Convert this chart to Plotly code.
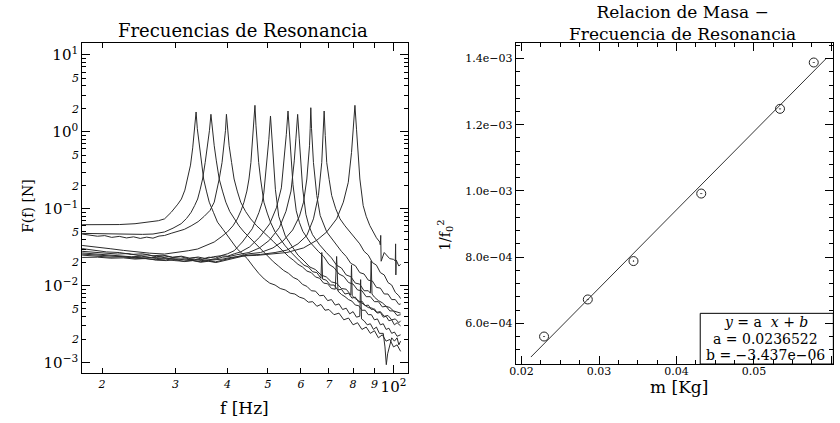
import numpy as np
import plotly.graph_objects as go

# ---------------- Left panel: resonance spectra (f [Hz], F(f) [N]) ----------------
f1 = [17.9, 20, 22, 24, 26, 27.3, 28.25, 29.3, 30.4, 31.0, 31.6, 32.1, 32.6, 33.0, 33.35, 33.62, 33.85, 34.23, 34.6, 35.05,
      35.6, 36.15, 37.0, 37.84, 39.0, 40.0, 41.2, 42.2, 43.4, 44.6, 46, 47.5, 49, 50.5, 52, 53.5, 55, 56.5, 58, 59.5,
      61, 62.5, 64, 65.5, 67, 68.5, 70, 72, 74, 76, 78, 80, 82, 84, 86, 88, 90, 92, 94, 96, 98, 100, 102, 104]
F1 = [0.0621, 0.0621, 0.0624, 0.064, 0.067, 0.07, 0.074, 0.09, 0.115, 0.134, 0.175, 0.244, 0.37, 0.62, 1.05, 1.815, 1.1, 0.66, 0.42, 0.244,
      0.17, 0.122, 0.09, 0.067, 0.054, 0.045, 0.036, 0.03, 0.026, 0.0225, 0.018, 0.0145, 0.0122, 0.0108, 0.0102, 0.0092, 0.0088, 0.008, 0.0078, 0.0071,
      0.0068, 0.0061, 0.0062, 0.0054, 0.0057, 0.0048, 0.0049, 0.0042, 0.0044, 0.0036, 0.0038, 0.0031, 0.0033, 0.0027, 0.0029, 0.0024, 0.0026, 0.0021, 0.0023, 0.0019, 0.002, 0.0016, 0.0017, 0.0014]

f2 = [17.9, 19, 20.5, 22, 23.5, 25, 26.5, 28.25, 29.6, 30.96, 31.9, 32.71, 33.35, 33.91, 34.4, 34.85, 35.35, 35.82, 36.2, 36.49,
      36.75, 37.16, 37.6, 38.2, 38.9, 39.62, 40.5, 41.47, 42.6, 43.8, 45.4, 47.11, 48.6, 50, 51.5, 53, 54.5, 56, 57.5, 59,
      60.5, 62, 63.5, 65, 66.5, 68, 69.5, 71, 72.5, 74, 75.5, 77, 78.5, 80, 81.5, 83, 83.4, 83.8, 85, 86.5,
      88, 89.5, 91, 92.5, 94.5, 95.4, 96.1, 96.8, 97.8, 99, 100.5, 102, 103, 104]
F2 = [0.0479, 0.0476, 0.0471, 0.0466, 0.0463, 0.0465, 0.047, 0.05, 0.056, 0.064, 0.075, 0.09, 0.11, 0.134, 0.18, 0.244, 0.4, 0.66, 1.05, 1.694,
      1.1, 0.66, 0.42, 0.244, 0.17, 0.122, 0.092, 0.074, 0.06, 0.05, 0.041, 0.0335, 0.028, 0.024, 0.0205, 0.018, 0.0158, 0.0145, 0.0128, 0.012,
      0.0104, 0.0098, 0.0086, 0.0085, 0.0074, 0.0075, 0.0064, 0.0066, 0.0056, 0.0058, 0.0049, 0.0051, 0.0043, 0.0046, 0.0039, 0.004, 0.012, 0.0037, 0.0035, 0.0031,
      0.0032, 0.0027, 0.0029, 0.0024, 0.0024, 0.0016, 0.00094, 0.0013, 0.0017, 0.0021, 0.0019, 0.0021, 0.0017, 0.0019]

f3 = [17.9, 18.7, 19.5, 20.3, 21.1, 22, 22.9, 23.8, 24.7, 25.6, 26.5, 27.4, 28.25, 29.3, 30.39, 31.5, 32.71, 34.0, 35.18, 36.3,
      37.16, 37.7, 38.2, 38.8, 39.26, 39.55, 39.75, 40.0, 40.35, 40.9, 41.47, 42.2, 43.01, 44.2, 45.44, 47.0, 48.89, 50.2, 51.64, 53,
      54.5, 56, 57.5, 59, 60.5, 62, 63.5, 65, 66.5, 68, 69.5, 71, 72.5, 73.05, 73.6, 75, 76.5, 78, 79.5, 81,
      82.5, 84, 85.5, 87, 88.5, 90, 91.5, 93, 94.5, 96, 97.5, 99, 100.5, 102, 104]
F3 = [0.047, 0.0455, 0.044, 0.0448, 0.0425, 0.0438, 0.0418, 0.0432, 0.0412, 0.0428, 0.0415, 0.0442, 0.045, 0.048, 0.051, 0.054, 0.06, 0.068, 0.08, 0.095,
      0.122, 0.17, 0.244, 0.4, 0.66, 1.05, 1.694, 1.1, 0.66, 0.4, 0.244, 0.17, 0.122, 0.092, 0.074, 0.06, 0.05, 0.043, 0.037, 0.032,
      0.028, 0.024, 0.0215, 0.019, 0.0175, 0.0155, 0.0148, 0.013, 0.0125, 0.0108, 0.0106, 0.0092, 0.009, 0.024, 0.0085, 0.0077, 0.0072, 0.0066, 0.0063, 0.0056,
      0.0055, 0.0048, 0.0048, 0.0042, 0.0042, 0.0036, 0.0037, 0.0031, 0.0032, 0.0027, 0.0028, 0.0024, 0.0025, 0.0022, 0.0023]

f4 = [17.9, 19.5, 21, 22.5, 24, 26, 28.25, 30.5, 32.2, 33.91, 35.5, 37.16, 38.6, 39.97, 41.2, 42.22, 43.1, 43.8, 44.5, 45.02,
      45.5, 45.84, 46.25, 46.53, 46.8, 47.11, 47.5, 48.0, 48.45, 48.89, 49.8, 50.7, 52.0, 53.5, 55, 56.5, 58, 59.5, 61, 62.5,
      64, 65.5, 67.0, 67.3, 67.6, 69, 70.5, 72, 73.5, 75, 76.5, 78, 79.5, 81, 82.5, 84, 85.5, 87, 88.5, 90,
      91.5, 93, 94.5, 96, 97.5, 99, 100.5, 102, 104]
F4 = [0.0334, 0.032, 0.0302, 0.0288, 0.0276, 0.0265, 0.0258, 0.027, 0.0285, 0.030, 0.033, 0.037, 0.043, 0.05, 0.06, 0.074, 0.095, 0.122, 0.17, 0.244,
      0.4, 0.66, 1.2, 2.215, 1.2, 0.66, 0.4, 0.244, 0.17, 0.122, 0.088, 0.067, 0.05, 0.04, 0.033, 0.028, 0.024, 0.021, 0.0185, 0.0175,
      0.0152, 0.0148, 0.0125, 0.027, 0.0122, 0.0118, 0.0102, 0.0102, 0.0088, 0.009, 0.0078, 0.008, 0.0069, 0.0071, 0.0061, 0.0063, 0.0055, 0.0056, 0.0049, 0.005,
      0.0044, 0.0045, 0.0039, 0.004, 0.0035, 0.0036, 0.0031, 0.0033, 0.003]

f5 = [17.9, 19, 20.5, 22, 23.5, 25, 26.5, 28, 29.5, 31, 32.5, 34, 35.5, 37, 38.5, 40, 41.5, 43.4, 45.84, 47.55,
      48.4, 48.87, 49.76, 50.23, 50.7, 51.15, 51.6, 52.1, 53.06, 54.0, 55.05, 57.2, 59, 61, 63, 65, 67, 69, 71, 73,
      75, 77, 79, 79.3, 79.6, 81, 83, 85, 87, 89, 91, 93, 95, 97, 99, 101, 103, 104]
F5 = [0.0304, 0.029, 0.0275, 0.027, 0.0255, 0.026, 0.0245, 0.025, 0.0235, 0.0242, 0.0228, 0.0236, 0.0225, 0.0238, 0.0245, 0.026, 0.0285, 0.037, 0.055, 0.089,
      0.12, 0.161, 0.40, 0.79, 1.61, 0.79, 0.4, 0.177, 0.08, 0.058, 0.044, 0.032, 0.025, 0.021, 0.0175, 0.0162, 0.0138, 0.013, 0.0112, 0.0108,
      0.0092, 0.009, 0.0076, 0.0185, 0.0074, 0.0068, 0.0062, 0.0058, 0.0052, 0.0051, 0.0045, 0.0046, 0.004, 0.0041, 0.0036, 0.0037, 0.0033, 0.0035]

f6 = [17.9, 19.2, 20.5, 21.8, 23.1, 24.4, 25.7, 27, 28.3, 29.6, 30.9, 32.2, 33.5, 34.8, 36.1, 37.4, 38.7, 40, 41.5, 43,
      45.2, 47.8, 50.5, 52.38, 53.84, 54.82, 55.33, 55.85, 56.34, 56.85, 57.4, 58.45, 59.5, 60.6, 63, 66, 68, 70, 72, 74,
      76, 78, 80, 82, 84, 86, 88, 90, 92, 94, 96, 98, 100, 102, 104]
F6 = [0.028, 0.0272, 0.0265, 0.0258, 0.0262, 0.0248, 0.0252, 0.0238, 0.0244, 0.0232, 0.0238, 0.0225, 0.0232, 0.0222, 0.0235, 0.0228, 0.0245, 0.0242, 0.026, 0.0275,
      0.032, 0.043, 0.064, 0.103, 0.187, 0.47, 0.92, 1.87, 0.92, 0.45, 0.206, 0.094, 0.066, 0.051, 0.037, 0.028, 0.024, 0.019, 0.0172, 0.0142,
      0.0132, 0.011, 0.0105, 0.0088, 0.0086, 0.0072, 0.0072, 0.0062, 0.0062, 0.0053, 0.0054, 0.0047, 0.0047, 0.0041, 0.0042]

f7 = [17.9, 19.3, 20.7, 22.1, 23.5, 24.9, 26.3, 27.7, 29.1, 30.5, 31.9, 33.3, 34.7, 36.1, 37.5, 38.9, 40.3, 42, 43.5, 45,
      47.7, 50.4, 53.25, 55.24, 56.78, 57.81, 58.35, 58.9, 59.42, 59.95, 60.54, 61.64, 62.7, 63.95, 66.5, 69, 71, 73, 75, 77,
      79, 81, 83, 85, 87, 88, 88.4, 88.8, 90, 92, 94, 96, 98, 100, 102, 104]
F7 = [0.0267, 0.026, 0.0252, 0.0246, 0.0238, 0.0242, 0.0232, 0.0236, 0.0225, 0.0222, 0.0215, 0.0221, 0.0212, 0.0218, 0.0222, 0.0235, 0.024, 0.0252, 0.026, 0.027,
      0.031, 0.039, 0.057, 0.093, 0.17, 0.42, 0.83, 1.69, 0.83, 0.4, 0.186, 0.085, 0.06, 0.046, 0.034, 0.027, 0.023, 0.0185, 0.017, 0.0138,
      0.0131, 0.0108, 0.0105, 0.0086, 0.0086, 0.008, 0.021, 0.0078, 0.0071, 0.0064, 0.006, 0.0054, 0.0052, 0.0047, 0.0045, 0.0044]

f8 = [17.9, 19.4, 20.9, 22.4, 23.9, 25.4, 26.9, 28.4, 29.9, 31.4, 32.9, 34.4, 35.9, 37.4, 38.9, 40.4, 42, 43.5, 45, 48,
      51.4, 54.3, 57.3, 59.5, 60.85, 61.97, 62.5, 62.89, 63.12, 63.34, 63.6, 63.9, 64.27, 65.47, 66.7, 69.16, 72, 75, 77, 79,
      81, 83, 85, 87, 89, 91, 93, 95, 97, 99, 101, 103, 104]
F8 = [0.025, 0.0242, 0.0235, 0.0238, 0.0228, 0.0225, 0.0218, 0.0222, 0.0212, 0.0208, 0.0214, 0.0205, 0.021, 0.0204, 0.0215, 0.0222, 0.0238, 0.0245, 0.026, 0.027,
      0.031, 0.038, 0.053, 0.08, 0.122, 0.244, 0.4, 0.66, 1.1, 2.063, 1.1, 0.66, 0.40, 0.149, 0.082, 0.05, 0.037, 0.028, 0.024, 0.0195,
      0.0182, 0.0148, 0.0142, 0.0118, 0.0115, 0.0095, 0.0093, 0.0078, 0.0078, 0.0066, 0.0066, 0.0057, 0.0058]

f9 = [17.9, 19.5, 21, 22.5, 24, 25.5, 27, 28.5, 30, 31.5, 33, 34.5, 36, 37.5, 39, 40.5, 42, 43.5, 45, 48,
      52, 55.5, 59, 61.97, 64.27, 66.07, 67.29, 67.8, 68.18, 68.6, 69.16, 70.1, 71.08, 72.7, 74.43, 76.5, 78.62, 81, 83, 85,
      87, 89, 91, 93, 95, 97, 99, 101, 103, 104]
F9 = [0.0233, 0.0235, 0.0228, 0.023, 0.0222, 0.0226, 0.0215, 0.0212, 0.0218, 0.0206, 0.0212, 0.0202, 0.0208, 0.02, 0.021, 0.0222, 0.023, 0.0242, 0.025, 0.0255,
      0.027, 0.029, 0.035, 0.045, 0.074, 0.149, 0.40, 0.9, 1.869, 0.9, 0.40, 0.24, 0.149, 0.1, 0.074, 0.06, 0.05, 0.04, 0.035, 0.028,
      0.025, 0.02, 0.0185, 0.0148, 0.0138, 0.011, 0.0102, 0.0082, 0.0074, 0.0068]

f10 = [17.9, 19.5, 21, 22.5, 24, 25.5, 27, 28.5, 30, 31.5, 33, 34.5, 36, 37.5, 39, 40.5, 42, 44, 47, 50,
       55.5, 60.85, 65.47, 69.16, 73.05, 75.8, 77.9, 79.31, 80.07, 80.81, 81.52, 82.2, 83.05, 84.58, 86.0, 87.73, 89.34, 91.0, 92.69, 92.95,
       93.18, 93.4, 95, 97.91, 100, 101.0, 101.16, 101.3, 101.5, 103, 104]
F10 = [0.0258, 0.025, 0.0245, 0.0238, 0.0232, 0.0235, 0.0226, 0.0228, 0.022, 0.0224, 0.0215, 0.0219, 0.0212, 0.0218, 0.0222, 0.0232, 0.0238, 0.0245, 0.0248, 0.0255,
       0.027, 0.031, 0.039, 0.05, 0.074, 0.122, 0.221, 0.54, 1.084, 2.215, 1.084, 0.5, 0.244, 0.11, 0.08, 0.0606, 0.05, 0.042, 0.037, 0.034,
       0.0451, 0.0208, 0.027, 0.0225, 0.022, 0.021, 0.035, 0.0138, 0.0215, 0.018, 0.019]

# ---------------- Right panel: mass vs 1/f0^2 ----------------
mass_kg = [0.0229, 0.02855, 0.03445, 0.0432, 0.05337, 0.05773]
inv_f0_sq = [5.60e-4, 6.72e-4, 7.88e-4, 9.92e-4, 1.248e-3, 1.388e-3]
fit_a = 0.0236522
fit_b = -3.437e-06
fit_x_range = [0.0212, 0.0594]

# tick labels
left_x_minor_vals = [20, 30, 40, 50, 60, 70, 80, 90]
left_x_minor_text = ["2", "3", "4", "5", "6", "7", "8", "9"]
left_x_major_vals = [100]
left_x_major_text = ["10<sup>2</sup>"]
left_y_decades = [1e-3, 1e-2, 1e-1, 1, 10]
left_y_decade_text = ["10<sup>−3</sup>", "10<sup>−2</sup>", "10<sup>−1</sup>", "10<sup>0</sup>", "10<sup>1</sup>"]
left_y_minor_labeled = [2e-3, 5e-3, 2e-2, 5e-2, 2e-1, 5e-1, 2, 5]
left_y_minor_text = ["2", "5", "2", "5", "2", "5", "2", "5"]
right_x_tickvals = [0.02, 0.03, 0.04, 0.05, 0.06]
right_x_ticktext = ["0.02", "0.03", "0.04", "0.05", "0.06"]
right_y_tickvals = [6e-4, 8e-4, 1.0e-3, 1.2e-3, 1.4e-3]
right_y_ticktext = ["6.0e−04", "8.0e−04", "1.0e−03", "1.2e−03", "1.4e−03"]

FONT = "DejaVu Serif"
W, H = 840, 423


def px(x):
    return x / W


def py(y):
    return 1 - y / H


fig = go.Figure()
line_color = "#2b2b2b"
for fx, Fy in [(f1, F1), (f2, F2), (f3, F3), (f4, F4), (f5, F5), (f6, F6), (f7, F7), (f8, F8), (f9, F9), (f10, F10)]:
    fig.add_trace(go.Scatter(x=fx, y=Fy, mode="lines", line=dict(color=line_color, width=1),
                             xaxis="x", yaxis="y", showlegend=False, hoverinfo="skip"))
# invisible copy so that the overlaid tick axes (x3 / y3) are drawn
fig.add_trace(go.Scatter(x=f1, y=F1, mode="lines", line=dict(color="rgba(0,0,0,0)", width=0), opacity=0,
                         xaxis="x3", yaxis="y3", showlegend=False, hoverinfo="skip"))

fx_fit = np.array(fit_x_range)
fy_fit = fit_a * fx_fit + fit_b
fig.add_trace(go.Scatter(x=fx_fit, y=fy_fit, mode="lines", line=dict(color="#333333", width=1),
                         xaxis="x2", yaxis="y2", showlegend=False, hoverinfo="skip"))
fig.add_trace(go.Scatter(x=mass_kg, y=inv_f0_sq, mode="markers",
                         marker=dict(symbol="circle-open-dot", size=9, color="#222222", line=dict(width=1, color="#222222")),
                         xaxis="x2", yaxis="y2", showlegend=False, hoverinfo="skip"))

y_unlabeled_minor = [m * d for d in [1e-3, 1e-2, 1e-1, 1] for m in [3, 4, 6, 7, 8, 9]]
yrange_left = [-3.139, 1.152]
xrange_left = [1.2534, 2.035]
dom_x_left = [px(76.7), px(405)]
dom_y_left = [py(373.3), py(43.3)]

common_line = dict(showline=True, linecolor="black", linewidth=1, mirror="ticks", showgrid=False,
                   zeroline=False, ticks="inside", tickcolor="black", tickwidth=1)
big_tick = dict(family=FONT, size=15, color="black")
small_tick = dict(family=FONT, size=11, color="black")
small_italic = dict(family=FONT, size=11, color="black", style="italic")

right_x_minor = list(np.round(np.arange(0.0175, 0.0626, 0.0025), 5))
right_y_minor = list(np.arange(4.8e-4, 1.45e-3, 4e-5))

fig.update_layout(
    width=W, height=H, margin=dict(l=0, r=0, t=0, b=0),
    paper_bgcolor="white", plot_bgcolor="white",
    font=dict(family=FONT, color="black"),
    # left panel: decades (big labels)
    xaxis=dict(domain=dom_x_left, anchor="y", type="log", range=xrange_left,
               tickmode="array", tickvals=left_x_major_vals, ticktext=left_x_major_text, ticklen=8,
               tickfont=big_tick, **common_line),
    yaxis=dict(domain=dom_y_left, anchor="x", type="log", range=yrange_left,
               tickmode="array", tickvals=left_y_decades, ticktext=left_y_decade_text, ticklen=8,
               tickfont=big_tick, **common_line),
    # left panel: intermediate digits (small italic labels)
    xaxis3=dict(domain=dom_x_left, anchor="y", overlaying="x", type="log", range=xrange_left,
                tickmode="array", tickvals=left_x_minor_vals, ticktext=left_x_minor_text, ticklen=5,
                tickfont=small_italic, **common_line),
    yaxis3=dict(domain=dom_y_left, anchor="x", overlaying="y", type="log", range=yrange_left,
                tickmode="array", tickvals=left_y_minor_labeled, ticktext=left_y_minor_text, ticklen=4,
                minor=dict(tickmode="array", tickvals=y_unlabeled_minor, ticklen=4, ticks="inside",
                           tickcolor="black", showgrid=False),
                tickfont=small_italic, **common_line),
    xaxis2=dict(domain=[px(513.3), px(833.3)], anchor="y2", range=[0.01923, 0.06026],
                tickmode="array", tickvals=right_x_tickvals, ticktext=right_x_ticktext, ticklen=8,
                ticklabelstandoff=-3,
                minor=dict(tickmode="array", tickvals=right_x_minor, ticklen=4, ticks="inside", tickcolor="black", showgrid=False),
                tickfont=small_tick, **common_line),
    yaxis2=dict(domain=[py(364), py(43.3)], anchor="x2", range=[4.77e-4, 1.446e-3],
                tickmode="array", tickvals=right_y_tickvals, ticktext=right_y_ticktext, ticklen=8,
                minor=dict(tickmode="array", tickvals=right_y_minor, ticklen=4, ticks="inside", tickcolor="black", showgrid=False),
                tickfont=small_tick, **common_line),
)

ann = []
tfont = dict(family=FONT, size=18, color="black")
lfont = dict(family=FONT, size=17, color="black")
ann.append(dict(text="Frecuencias de Resonancia", x=px(239), y=py(31), xref="paper", yref="paper",
                showarrow=False, font=tfont, xanchor="center", yanchor="middle"))
ann.append(dict(text="Relacion de Masa −<br>Frecuencia de Resonancia", x=px(681.7), y=py(23), xref="paper", yref="paper",
                showarrow=False, font=dict(family=FONT, size=17, color="black"), xanchor="center", yanchor="middle"))
ann.append(dict(text="f [Hz]", x=px(240), y=py(408), xref="paper", yref="paper",
                showarrow=False, font=lfont, xanchor="center", yanchor="middle"))
ann.append(dict(text="F(f) [N]", x=px(22), y=py(206), xref="paper", yref="paper", textangle=-90,
                showarrow=False, font=dict(family=FONT, size=14, color="black"), xanchor="center", yanchor="middle"))
ann.append(dict(text="m [Kg]", x=px(678), y=py(387), xref="paper", yref="paper",
                showarrow=False, font=lfont, xanchor="center", yanchor="middle"))
ann.append(dict(text="1/f<sub>0</sub><sup>2</sup>", x=px(442), y=py(235), xref="paper", yref="paper", textangle=-90,
                showarrow=False, font=dict(family=FONT, size=14, color="black"), xanchor="center", yanchor="middle"))

# fit-result box (three lines inside a framed rectangle)
box_font = dict(family=FONT, size=14, color="black")
box_lines = ["<i>y</i> = a  <i>x</i> + <i>b</i>", "a = %s" % str(fit_a), "b = −3.437e−06"]
box_line_y = [0.1315, 0.0790, 0.0290]
for txt, yy in zip(box_lines, box_line_y):
    ann.append(dict(text=txt, x=0.7866, y=yy, xref="x2 domain", yref="y2 domain", xanchor="center", yanchor="middle",
                    showarrow=False, font=box_font))
fig.update_layout(annotations=ann,
                  shapes=[dict(type="rect", xref="x2 domain", yref="y2 domain", x0=0.581, x1=1.0, y0=0.0, y1=0.158,
                               line=dict(color="black", width=1), fillcolor="rgba(0,0,0,0)")])

fig.write_html("out.html")
